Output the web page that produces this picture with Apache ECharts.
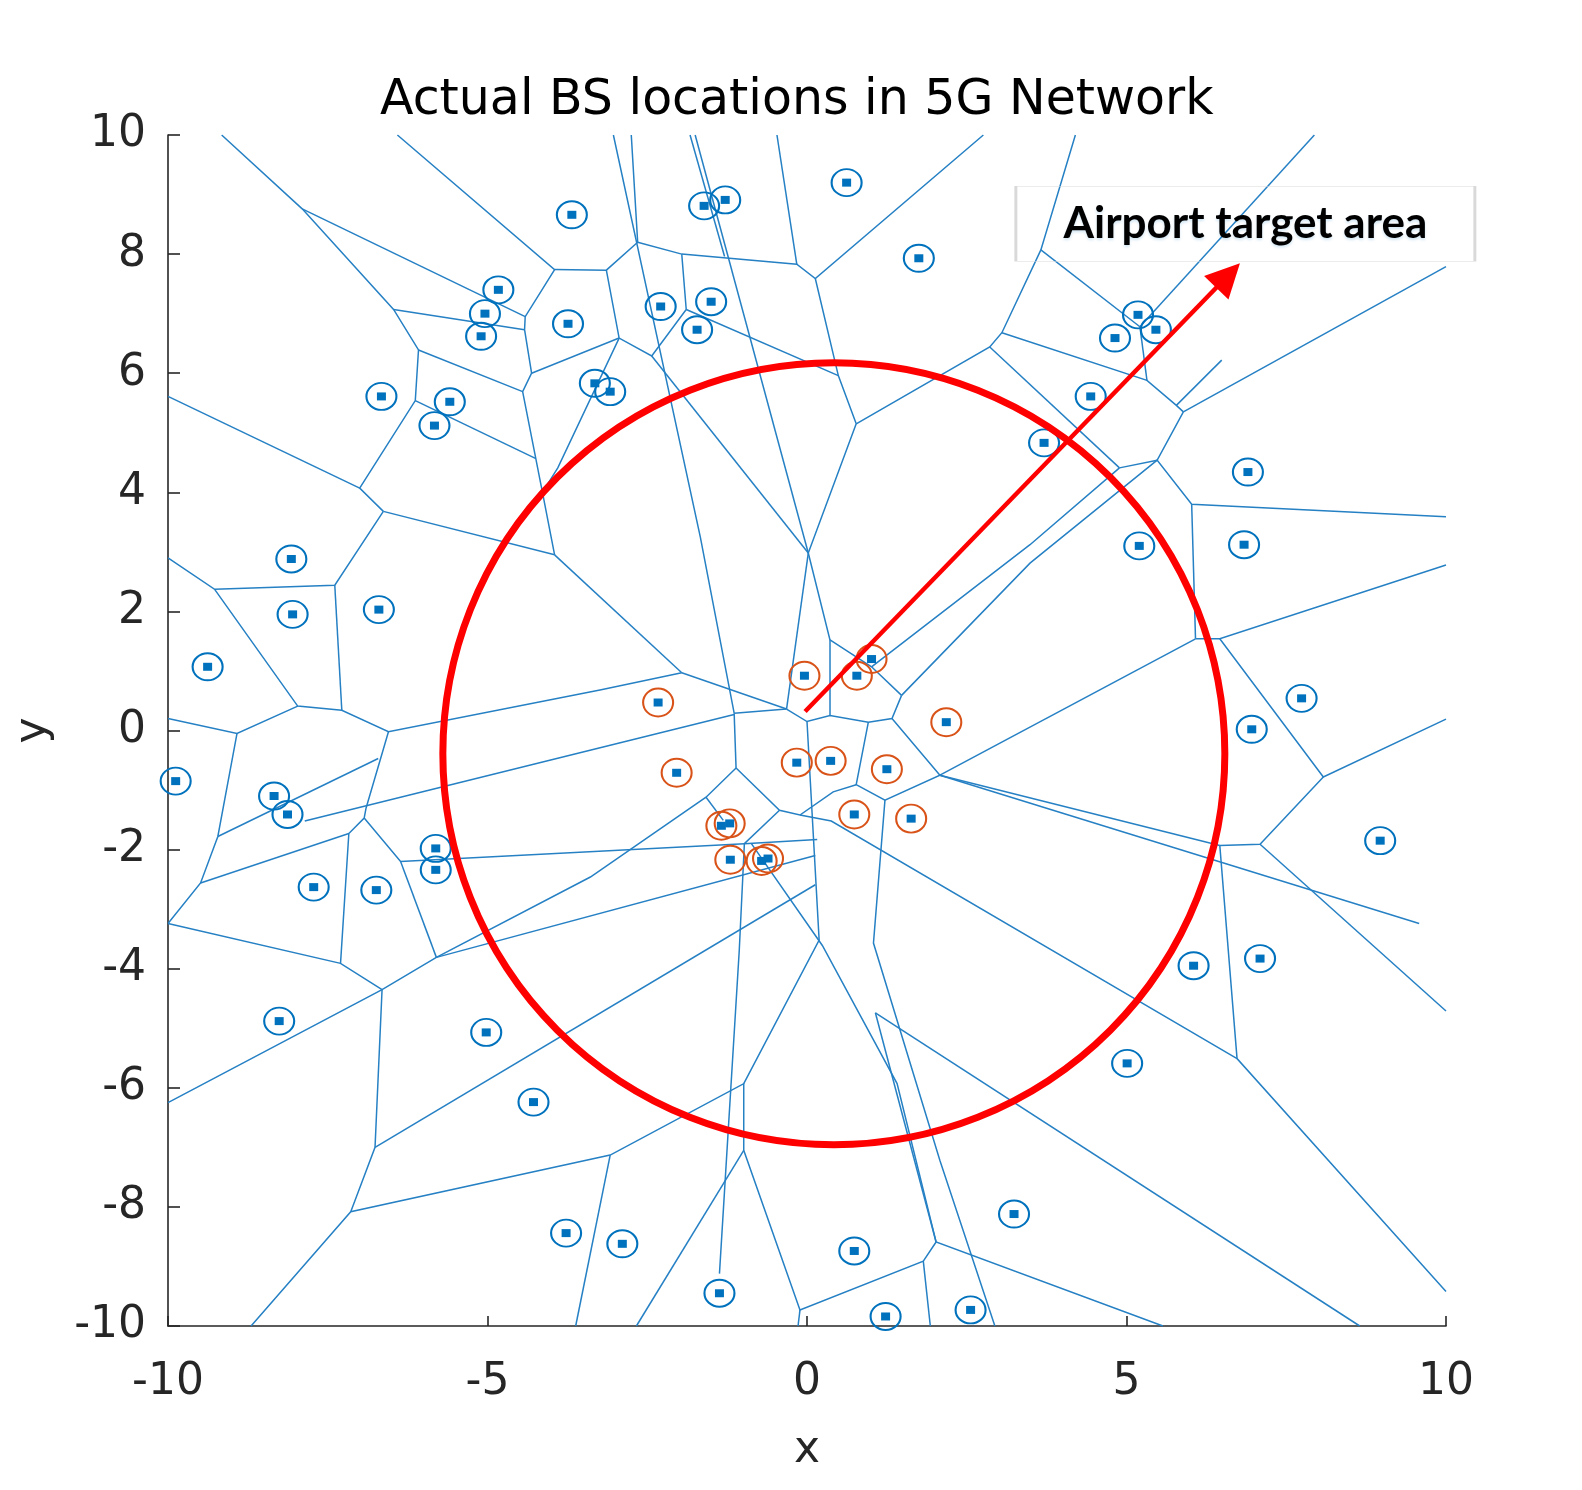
<!DOCTYPE html>
<html>
<head>
<meta charset="utf-8">
<title>Actual BS locations in 5G Network</title>
<script src="https://cdn.jsdelivr.net/npm/echarts@6/dist/echarts.min.js"></script>
<style>
  html, body { margin: 0; padding: 0; background: #fff; }
  #chart { width: 1582px; height: 1490px; }
</style>
</head>
<body>
<div id="chart"></div>
<script>
// base stations (blue rings)
var bsPoints = [
  [-3.68, 8.66], [-1.61, 8.81], [-1.28, 8.91], [0.62, 9.20], [1.75, 7.93],
  [-4.83, 7.40], [-5.04, 7.00], [-5.10, 6.62], [-3.74, 6.83], [-2.29, 7.12],
  [-1.50, 7.20], [-1.72, 6.73], [-3.32, 5.83], [-3.08, 5.69], [-6.66, 5.61],
  [-5.59, 5.52], [-5.83, 5.12], [5.18, 6.98], [5.46, 6.73], [4.82, 6.59],
  [4.44, 5.61], [3.71, 4.83], [6.90, 4.34], [5.20, 3.10], [6.84, 3.12],
  [-8.07, 2.88], [-8.05, 1.95], [-6.70, 2.03], [-9.38, 1.07], [-9.88, -0.85],
  [-8.34, -1.10], [-8.13, -1.41], [-7.72, -2.63], [-6.74, -2.68], [-5.81, -1.98],
  [-5.81, -2.34], [-8.26, -4.88], [-5.02, -5.07], [-4.28, -6.24], [-3.77, -8.44],
  [-2.89, -8.62], [-1.37, -9.45], [0.74, -8.74], [1.23, -9.84], [2.56, -9.73],
  [3.24, -8.12], [5.01, -5.59], [6.05, -3.95], [7.09, -3.83], [8.97, -1.85],
  [6.96, 0.02], [7.74, 0.54]
]
// base stations inside the airport target area (orange rings)
var targetPoints = [
  [-2.33, 0.47], [-0.04, 0.92], [0.78, 0.92], [1.01, 1.20], [2.18, 0.14],
  [-2.04, -0.71], [-0.16, -0.54], [0.37, -0.51], [1.25, -0.65], [0.74, -1.41],
  [1.63, -1.48], [-1.34, -1.60], [-1.21, -1.56], [-1.20, -2.17], [-0.71, -2.19],
  [-0.61, -2.15]
]
// voronoi cell borders, each one a polyline
var voronoiEdges = [
  [[-9.16, 10], [-7.90, 8.76], [-6.47, 7.07], [-6.08, 6.39], [-6.13, 5.54], [-7.00, 4.07], [-6.63, 3.68]],
  [[-7.90, 8.76], [-4.41, 6.95]],
  [[-6.47, 7.07], [-4.42, 6.73]],
  [[-6.41, 10], [-3.95, 7.74], [-4.41, 6.95], [-4.42, 6.73], [-4.31, 6.00], [-4.45, 5.69], [-4.14, 4.00], [-3.95, 2.95]],
  [[-6.08, 6.39], [-4.45, 5.69]],
  [[-6.13, 5.54], [-4.25, 4.57]],
  [[-4.31, 6.00], [-2.94, 6.59]],
  [[-10, 5.61], [-7.00, 4.07]],
  [[-6.63, 3.68], [-3.95, 2.95]],
  [[-3.95, 7.74], [-3.14, 7.73], [-2.65, 8.20], [-2.75, 10]],
  [[-3.14, 7.73], [-2.94, 6.59], [-2.43, 6.29], [-1.89, 7.07], [-1.96, 8.00]],
  [[-2.65, 8.20], [-1.96, 8.00], [-0.16, 7.83], [0.13, 7.59], [2.76, 10]],
  [[-3.03, 10], [-1.67, 3.25], [-1.14, 0.29]],
  [[-1.75, 10], [0.02, 2.98]],
  [[-1.83, 10], [-1.29, 7.96]],
  [[-2.43, 6.29], [0.02, 2.98]],
  [[0.13, 7.59], [0.49, 5.96], [0.77, 5.15], [0.02, 2.98]],
  [[-1.89, 7.07], [0.49, 5.96]],
  [[-0.47, 10], [-0.16, 7.83]],
  [[0.77, 5.15], [2.86, 6.44], [3.05, 6.68], [3.66, 8.07], [4.20, 10]],
  [[3.05, 6.68], [5.32, 5.88], [5.78, 5.46], [5.89, 5.35]],
  [[3.66, 8.07], [5.21, 6.78]],
  [[5.21, 6.78], [5.32, 5.88]],
  [[5.21, 6.78], [7.94, 10]],
  [[2.86, 6.44], [4.89, 4.41]],
  [[5.78, 5.46], [6.49, 6.22]],
  [[5.89, 5.35], [10, 7.79]],
  [[5.89, 5.35], [5.48, 4.54], [6.02, 3.80], [10, 3.59]],
  [[5.48, 4.54], [4.89, 4.41]],
  [[6.02, 3.80], [6.08, 1.54]],
  [[6.08, 1.54], [6.46, 1.54], [10, 2.78]],
  [[6.08, 1.54], [2.08, -0.75]],
  [[6.46, 1.54], [8.08, -0.78], [10, 0.19]],
  [[8.08, -0.78], [7.09, -1.91], [6.46, -1.93]],
  [[7.09, -1.91], [10, -4.71]],
  [[6.46, -1.93], [6.73, -5.51], [10, -9.42]],
  [[2.08, -0.75], [6.46, -1.93]],
  [[2.08, -0.75], [9.58, -3.24]],
  [[4.89, 4.41], [3.49, 3.12], [1.01, 1.07]],
  [[5.48, 4.54], [3.49, 2.81], [1.48, 0.59]],
  [[-0.32, 0.36], [0, 0.15], [0.36, 0.25], [0.96, 0.14], [1.33, 0.20], [1.48, 0.59]],
  [[0, 0.15], [0.19, -3.52], [-0.99, -5.93]],
  [[0.36, 0.25], [0.36, 1.52], [0.02, 2.98]],
  [[0.36, 1.52], [1.01, 1.07], [1.48, 0.59]],
  [[0.96, 0.14], [0.77, -0.91], [1.22, -1.17], [2.08, -0.75], [1.33, 0.20]],
  [[0.77, -0.91], [0.41, -1.03], [-0.11, -1.42], [-0.43, -1.34], [-1.11, -0.63]],
  [[-0.11, -1.42], [0.38, -1.52], [6.73, -5.51]],
  [[-0.43, -1.34], [-0.98, -1.90], [-1.06, -3.69], [-1.37, -9.12]],
  [[-0.98, -1.90], [0.16, -1.83]],
  [[1.22, -1.17], [1.04, -3.57], [2.08, -7.22], [2.94, -10]],
  [[-0.87, -1.90], [0.24, -3.61], [1.41, -5.93], [2.02, -8.59], [5.57, -10]],
  [[2.02, -8.59], [1.82, -8.91], [-0.11, -9.73], [-0.99, -7.05], [-0.99, -5.93], [-3.08, -7.13], [-7.14, -8.08], [-8.70, -10]],
  [[1.82, -8.91], [1.93, -10]],
  [[-0.11, -9.73], [-0.14, -10]],
  [[-0.99, -7.05], [-2.67, -10]],
  [[-3.08, -7.13], [-3.62, -10]],
  [[1.07, -4.74], [8.65, -10]],
  [[1.07, -4.74], [2.02, -8.59]],
  [[-1.11, -0.63], [-1.58, -1.12], [-3.39, -2.46], [-5.80, -3.81], [-6.65, -4.35], [-10, -6.25]],
  [[-1.58, -1.12], [-1.31, -1.51]],
  [[-1.96, 0.97], [-0.32, 0.36]],
  [[-1.14, 0.29], [-0.32, 0.36]],
  [[-1.14, 0.29], [-1.11, -0.63]],
  [[-7.86, -1.52], [-1.14, 0.27]],
  [[-0.32, 0.36], [0.02, 2.98]],
  [[-3.95, 2.95], [-1.96, 0.97]],
  [[-2.94, 6.59], [-3.90, 4.41], [-4.14, 4.00]],
  [[-10, 2.90], [-9.27, 2.37], [-7.39, 2.44], [-6.63, 3.68]],
  [[-7.39, 2.44], [-7.28, 0.34]],
  [[-9.27, 2.37], [-7.97, 0.41], [-7.28, 0.34], [-6.55, -0.02], [-3.24, 0.68], [-1.96, 0.97]],
  [[-7.97, 0.41], [-8.92, -0.05], [-10, 0.20]],
  [[-6.55, -0.02], [-6.90, -1.30], [-6.93, -1.47], [-7.17, -1.73], [-7.30, -3.91]],
  [[-8.92, -0.05], [-9.22, -1.78], [-9.49, -2.56], [-10, -3.24]],
  [[-9.22, -1.78], [-6.71, -0.47]],
  [[-9.49, -2.56], [-7.17, -1.73]],
  [[-6.93, -1.47], [-6.36, -2.20], [-0.98, -1.90]],
  [[-6.36, -2.20], [-5.80, -3.81]],
  [[-10, -3.24], [-7.30, -3.91], [-6.65, -4.35]],
  [[-6.65, -4.35], [-6.76, -7.00], [-7.14, -8.08]],
  [[-6.76, -7.00], [0.13, -2.59]],
  [[-5.80, -3.81], [0.13, -2.10]]
]
var targetZone = [[0.42, -0.39]] // centre of the red ring
var arrowPath = [[-0.03, 0.32], [6.59, 7.64]]
var noteBox = [[6.86, 8.51]]
var noteText = 'Airport target area'

var myChart = echarts.init(document.getElementById('chart'))
var axisFont = 'DejaVu Sans'
var option = {
  animation: false,
  backgroundColor: '#fff',
  title: {
    text: 'Actual BS locations in 5G Network',
    left: 380,
    top: 77,
    padding: 0,
    textStyle: { fontFamily: axisFont, fontSize: 49, fontWeight: 'normal', color: '#000' }
  },
  grid: { left: 168, right: 136, top: 135, bottom: 164, containLabel: false },
  xAxis: {
    type: 'value',
    min: -10,
    max: 10,
    interval: 5,
    name: 'x',
    nameLocation: 'middle',
    nameGap: 103,
    nameTextStyle: { fontFamily: axisFont, fontSize: 44, color: '#262626' },
    axisLine: { onZero: false, lineStyle: { color: '#262626', width: 1.6 } },
    axisTick: { inside: true, length: 10, lineStyle: { color: '#262626', width: 1.6 } },
    axisLabel: { margin: 35, fontFamily: axisFont, fontSize: 44, color: '#262626' },
    splitLine: { show: false }
  },
  yAxis: {
    type: 'value',
    min: -10,
    max: 10,
    interval: 2,
    name: 'y',
    nameLocation: 'middle',
    nameRotate: 90,
    nameGap: 112,
    nameTextStyle: { fontFamily: axisFont, fontSize: 44, color: '#262626' },
    axisLine: { onZero: false, lineStyle: { color: '#262626', width: 1.6 } },
    axisTick: { inside: true, length: 12, lineStyle: { color: '#262626', width: 1.6 } },
    axisLabel: { margin: 22, fontFamily: axisFont, fontSize: 44, color: '#262626' },
    splitLine: { show: false }
  },
  series: [
    {
      name: 'voronoi',
      type: 'lines',
      coordinateSystem: 'cartesian2d',
      polyline: true,
      silent: true,
      z: 2,
      lineStyle: { color: '#2680c4', width: 1.5, opacity: 1 },
      data: voronoiEdges.map(function (c) { return { coords: c } })
    },
    {
      name: 'bsRing',
      type: 'scatter',
      silent: true,
      z: 3,
      symbol: 'circle',
      symbolSize: [30, 27],
      itemStyle: { color: 'rgba(0,0,0,0)', borderColor: '#0072BD', borderWidth: 2, opacity: 1 },
      data: bsPoints
    },
    {
      name: 'targetRing',
      type: 'scatter',
      silent: true,
      z: 3,
      symbol: 'circle',
      symbolSize: [30, 28],
      itemStyle: { color: 'rgba(0,0,0,0)', borderColor: '#D95319', borderWidth: 2, opacity: 1 },
      data: targetPoints
    },
    {
      name: 'bs',
      type: 'scatter',
      silent: true,
      z: 4,
      symbol: 'rect',
      symbolSize: [9, 8],
      itemStyle: { color: '#0072BD', opacity: 1 },
      data: bsPoints.concat(targetPoints)
    },
    {
      name: 'zone',
      type: 'scatter',
      silent: true,
      z: 5,
      symbol: 'circle',
      symbolSize: 782,
      itemStyle: { color: 'rgba(0,0,0,0)', borderColor: '#FF0000', borderWidth: 7, opacity: 1 },
      data: targetZone
    },
    {
      name: 'arrow',
      type: 'lines',
      coordinateSystem: 'cartesian2d',
      silent: true,
      z: 6,
      symbol: ['none', 'triangle'],
      symbolSize: 34,
      lineStyle: { color: '#FF0000', width: 4.5, opacity: 1 },
      data: [{ coords: arrowPath }]
    },
    {
      name: 'note',
      type: 'scatter',
      silent: true,
      z: 7,
      symbol: 'rect',
      symbolSize: [459, 75],
      itemStyle: { color: 'rgba(255,255,255,0)', borderColor: '#d9d9d9', borderWidth: 1.2, opacity: 1 },
      label: {
        show: true,
        position: 'inside',
        formatter: noteText,
        fontFamily: 'Lato',
        fontWeight: 'bold',
        fontSize: 44,
        color: '#000',
        opacity: 1,
        textShadowColor: 'rgba(0,114,189,0.18)',
        textShadowBlur: 3,
        textShadowOffsetY: 2
      },
      data: noteBox
    }
  ]
}
myChart.setOption(option, true)
</script>
</body>
</html>
